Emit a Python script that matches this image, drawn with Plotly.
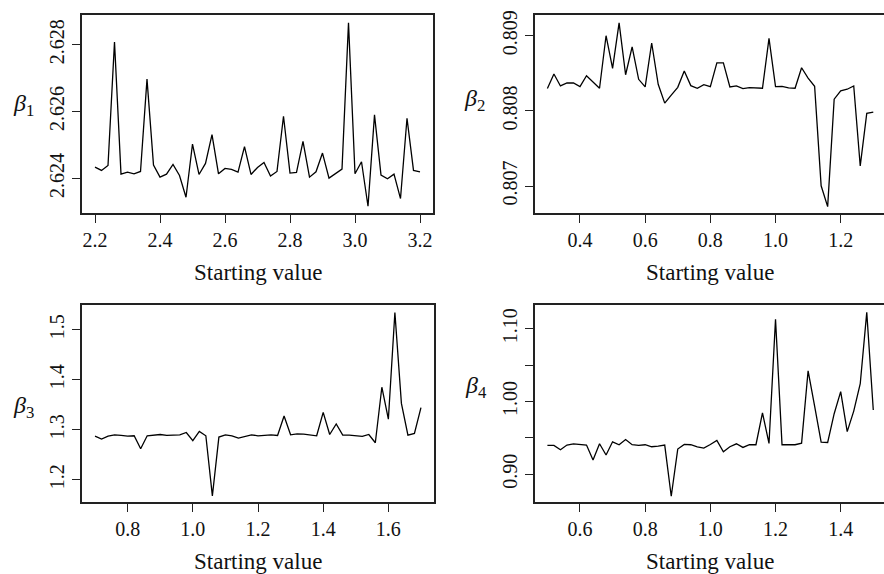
import numpy as np
import plotly.graph_objects as go

W, H = 884, 574

# ---- data ----
start1 = np.round(np.linspace(2.2, 3.2, 51), 2)
start2 = np.round(np.linspace(0.3, 1.3, 51), 2)
start3 = np.round(np.linspace(0.7, 1.7, 51), 2)
start4 = np.round(np.linspace(0.5, 1.5, 51), 2)

beta1 = [2.62434, 2.62424, 2.62439, 2.62808, 2.62413, 2.62419, 2.62414, 2.62421, 2.62697, 2.62440,
         2.62404, 2.62413, 2.62442, 2.62409, 2.62344, 2.62503, 2.62412, 2.62445, 2.62531, 2.62414,
         2.62430, 2.62427, 2.62419, 2.62495, 2.62412, 2.62433, 2.62448, 2.62407, 2.62421, 2.62586,
         2.62416, 2.62418, 2.62511, 2.62404, 2.62420, 2.62476, 2.62401, 2.62414, 2.62428, 2.62865,
         2.62414, 2.62450, 2.62317, 2.62590, 2.62410, 2.62399, 2.62413, 2.62340, 2.62580, 2.62424,
         2.62420]

beta2 = [0.808297, 0.808490, 0.808332, 0.808371, 0.808371, 0.808323, 0.808468, 0.808380, 0.808301, 0.809000,
         0.808565, 0.809171, 0.808481, 0.808851, 0.808420, 0.808319, 0.808903, 0.808354, 0.808103, 0.808209,
         0.808314, 0.808530, 0.808336, 0.808301, 0.808349, 0.808323, 0.808640, 0.808640, 0.808319, 0.808332,
         0.808297, 0.808310, 0.808305, 0.808301, 0.808965, 0.808323, 0.808327, 0.808305, 0.808301, 0.808574,
         0.808437, 0.808327, 0.807004, 0.806727, 0.808156, 0.808266, 0.808288, 0.808332, 0.807268, 0.807967,
         0.807985]

beta3 = [1.2874, 1.2815, 1.2874, 1.2901, 1.2888, 1.2874, 1.2881, 1.2623, 1.2881, 1.2894,
         1.2907, 1.2888, 1.2888, 1.2901, 1.2947, 1.2782, 1.2967, 1.2881, 1.1678, 1.2855,
         1.2901, 1.2881, 1.2835, 1.2868, 1.2901, 1.2881, 1.2894, 1.2901, 1.2888, 1.3278,
         1.2901, 1.2921, 1.2914, 1.2894, 1.2881, 1.3350, 1.2907, 1.3119, 1.2894, 1.2894,
         1.2881, 1.2868, 1.2907, 1.2742, 1.3853, 1.3212, 1.5347, 1.3529, 1.2894, 1.2927,
         1.3443]

beta4 = [0.9395, 0.9395, 0.9336, 0.9400, 0.9418, 0.9405, 0.9400, 0.9195, 0.9418, 0.9264,
         0.9445, 0.9405, 0.9477, 0.9405, 0.9395, 0.9405, 0.9377, 0.9386, 0.9400, 0.8696,
         0.9345, 0.9409, 0.9405, 0.9377, 0.9359, 0.9409, 0.9464, 0.9309, 0.9377, 0.9418,
         0.9368, 0.9405, 0.9405, 0.9845, 0.9423, 1.1132, 0.9405, 0.9405, 0.9405, 0.9427,
         1.0423, 0.9936, 0.9441, 0.9436, 0.9832, 1.0136, 0.9586, 0.9868, 1.0245, 1.1227,
         0.9882]

xticks1 = [2.2, 2.4, 2.6, 2.8, 3.0, 3.2]
xticks2 = [0.4, 0.6, 0.8, 1.0, 1.2]
xticks3 = [0.8, 1.0, 1.2, 1.4, 1.6]
xticks4 = [0.6, 0.8, 1.0, 1.2, 1.4]
yticks1 = [2.624, 2.626, 2.628]
yticks2 = [0.807, 0.808, 0.809]
yticks3 = [1.2, 1.3, 1.4, 1.5]
yticks4 = [0.90, 0.95, 1.00, 1.05, 1.10]
ylab4 = ["0.90", "", "1.00", "", "1.10"]

xlabel = "Starting value"
ylabels = ["<i>β</i><sub>1</sub>", "<i>β</i><sub>2</sub>", "<i>β</i><sub>3</sub>", "<i>β</i><sub>4</sub>"]

FONT = "Liberation Serif, Times New Roman, serif"


def fx(p):
    return p / W


def fy(p):
    return 1 - p / H


panels = [
    # x px domain, y px domain (top, bottom), x range, y range, right border
    dict(xd=(82, 433), yd=(10.5, 210), xr=(2.16, 3.24), yr=(2.622963, 2.628874), right=True),
    dict(xd=(534.5, 884), yd=(10.5, 210), xr=(0.2604, 1.3329), yr=(0.806640, 0.809270), right=False),
    dict(xd=(82, 434), yd=(302.5, 501.5), xr=(0.66, 1.74), yr=(1.1554, 1.5500), right=True),
    dict(xd=(534.5, 884), yd=(302.5, 501.5), xr=(0.4604, 1.5329), yr=(0.8615, 1.1330), right=False),
]
xs = [start1, start2, start3, start4]
ys = [beta1, beta2, beta3, beta4]
xt = [xticks1, xticks2, xticks3, xticks4]
yt = [yticks1, yticks2, yticks3, yticks4]
ytt = [[f"{v:.3f}" for v in yticks1], [f"{v:.3f}" for v in yticks2],
       [f"{v:.1f}" for v in yticks3], ylab4]

fig = go.Figure()
layout = dict(
    width=W, height=H,
    margin=dict(l=0, r=0, t=0, b=0),
    paper_bgcolor="white", plot_bgcolor="white",
    showlegend=False,
    font=dict(family=FONT, size=20, color="black"),
)
annotations = []

for i, p in enumerate(panels):
    n = "" if i == 0 else str(i + 1)
    fig.add_trace(go.Scatter(x=xs[i], y=ys[i], mode="lines",
                             line=dict(color="black", width=1.3),
                             xaxis="x" + n, yaxis="y" + n, hoverinfo="skip"))
    layout["xaxis" + n] = dict(
        domain=[fx(p["xd"][0]), fx(p["xd"][1])], range=list(p["xr"]),
        anchor="y" + n, showgrid=False, zeroline=False,
        showline=True, mirror=True, linecolor="#222", linewidth=1.5,
        ticks="outside", ticklen=8, tickwidth=1.3, tickcolor="#222",
        tickvals=xt[i], ticktext=[f"{v:.1f}" for v in xt[i]],
        tickfont=dict(family=FONT, size=20, color="#111"),
    )
    layout["yaxis" + n] = dict(
        domain=[fy(p["yd"][1]), fy(p["yd"][0])], range=list(p["yr"]),
        anchor="x" + n, showgrid=False, zeroline=False,
        showline=True, mirror=p["right"], linecolor="#222", linewidth=1.5,
        ticks="outside", ticklen=8, tickwidth=1.3, tickcolor="#222",
        tickvals=yt[i], ticktext=ytt[i], tickangle=-90,
        tickfont=dict(family=FONT, size=20, color="#111"),
    )
    cx = (p["xd"][0] + (433 if p["right"] else 886)) / 2
    annotations.append(dict(text=xlabel, x=fx(cx), y=fy(p["yd"][1] + 60),
                            xref="paper", yref="paper", xanchor="center", yanchor="middle",
                            showarrow=False, font=dict(family=FONT, size=23, color="#111")))

beta_pos = [(23, 101), (474, 96), (23, 406), (476, 385)]
for lab, (bx, by) in zip(ylabels, beta_pos):
    annotations.append(dict(text=lab, x=fx(bx), y=fy(by), xref="paper", yref="paper",
                            xanchor="center", yanchor="middle", showarrow=False,
                            font=dict(family=FONT, size=24, color="#111")))

layout["annotations"] = annotations
fig.update_layout(**layout)
fig.write_html("out.html")
